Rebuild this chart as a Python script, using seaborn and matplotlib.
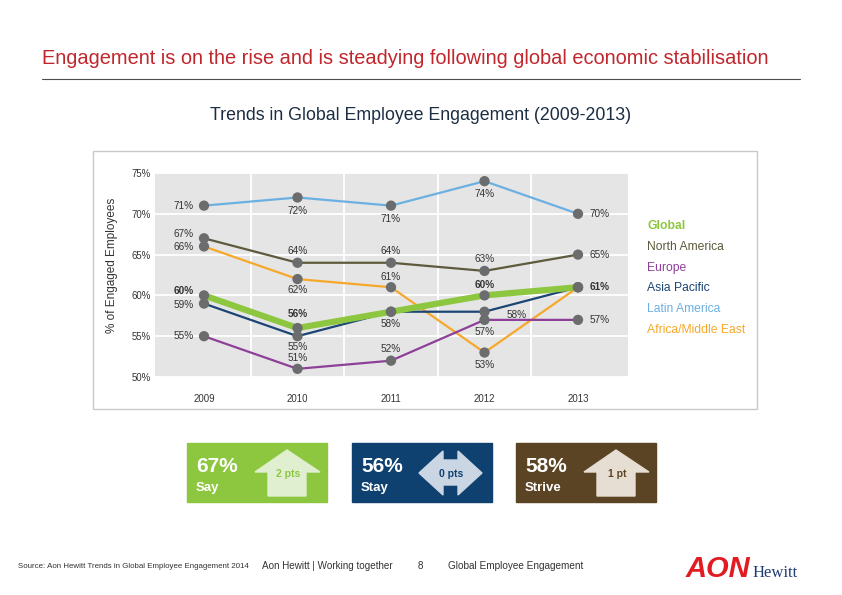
import matplotlib
matplotlib.use("Agg")
import pandas as pd
import matplotlib.pyplot as plt
import seaborn as sns
from matplotlib import font_manager
from matplotlib.patches import Rectangle, Polygon
from matplotlib.lines import Line2D

# Engagement (% of engaged employees) by region
years = [2009, 2010, 2011, 2012, 2013]
global_eng = [60, 56, 58, 60, 61]
north_america = [67, 64, 64, 63, 65]
europe = [55, 51, 52, 57, 57]
asia_pacific = [59, 55, 58, 58, 61]
latin_america = [71, 72, 71, 74, 70]
africa_me = [66, 62, 61, 53, 61]
y_ticks = [50, 55, 60, 65, 70, 75]

# summary boxes under the chart
box_values = ['67%', '56%', '58%']
box_names = ['Say', 'Stay', 'Strive']
box_changes = ['2 pts', '0 pts', '1 pt']

legend_order = ['Global', 'North America', 'Europe', 'Asia Pacific',
                'Latin America', 'Africa/Middle East']
series = {
    'Global': global_eng,
    'North America': north_america,
    'Europe': europe,
    'Asia Pacific': asia_pacific,
    'Latin America': latin_america,
    'Africa/Middle East': africa_me,
}

rows = []
for name, vals in series.items():
    for yr, v in zip(years, vals):
        rows.append({'Year': yr, 'Region': name, 'Engagement': v})
df = pd.DataFrame(rows)

colors = {
    'Global': '#8dc63f',
    'North America': '#5e5a3c',
    'Europe': '#8e3f98',
    'Asia Pacific': '#1b4674',
    'Latin America': '#6cb0e2',
    'Africa/Middle East': '#f7a82a',
}
widths = {k: 1.6 for k in colors}
widths['Global'] = 4.5
draw_order = ['Latin America', 'North America', 'Africa/Middle East',
              'Europe', 'Asia Pacific', 'Global']

# label placement per point: (dx px, dy px, ha) or None
label_pos = {
    'Latin America': [(-10, 0, 'right'), (0, -14, 'center'), (0, -13, 'center'), (0, -13, 'center'), (12, 0, 'left')],
    'North America': [(-10, 4, 'right'), (0, 12, 'center'), (0, 12, 'center'), (0, 12, 'center'), (12, 0, 'left')],
    'Africa/Middle East': [(-10, -1, 'right'), (0, -11, 'center'), (0, 10, 'center'), (0, -12, 'center'), None],
    'Global': [(-10, 4, 'right'), (0, 14, 'center'), None, (0, 10, 'center'), (12, 0, 'left')],
    'Asia Pacific': [(-10, -1, 'right'), (0, -11, 'center'), (0, -12, 'center'), (32, -3, 'center'), None],
    'Europe': [(-10, 0, 'right'), (0, 11, 'center'), (0, 12, 'center'), (0, -12, 'center'), (12, 0, 'left')],
}

sns.set_style("white")
plt.rcParams['font.family'] = ['Liberation Sans', 'DejaVu Sans']
installed = {f.name for f in font_manager.fontManager.ttflist}
has_narrow = 'Liberation Sans Narrow' in installed

W, H = 842, 595
fig = plt.figure(figsize=(W / 100, H / 100), dpi=100)


def fx(x):
    return x / W


def fy(y):
    return 1 - y / H


# header
fig.text(fx(42), fy(59), 'Engagement is on the rise and is steadying following global economic stabilisation',
         color='#c0272d', fontsize=14.4, va='center', ha='left')
fig.add_artist(Line2D([fx(42), fx(800)], [fy(79), fy(79)], color='#4d4d4d', lw=0.8))
fig.text(fx(421), fy(115), 'Trends in Global Employee Engagement (2009-2013)',
         color='#1c2d42', fontsize=12.8, va='center', ha='center')

# chart frame
fig.add_artist(Rectangle((fx(93), fy(409)), fx(757 - 93), (409 - 151) / H,
                         transform=fig.transFigure, facecolor='white',
                         edgecolor='#c9c9c9', lw=1.0, zorder=0))

ax = fig.add_axes([fx(155), fy(377), fx(628 - 155), (377 - 173) / H])
ax.set_facecolor('#e5e5e5')
for s in ax.spines.values():
    s.set_visible(False)

sns.lineplot(data=df, x='Year', y='Engagement', hue='Region', hue_order=draw_order,
             palette=colors, size='Region', sizes=widths, size_order=draw_order,
             legend=False, ax=ax, zorder=3)
sns.scatterplot(data=df, x='Year', y='Engagement', color='#6b6c6e', s=55,
                edgecolor='none', legend=False, ax=ax, zorder=5)

for name in series:
    for yr, v, pos in zip(years, series[name], label_pos[name]):
        if pos is None:
            continue
        dx, dy, ha = pos
        ax.annotate(f'{v}%', (yr, v), xytext=(dx, dy), textcoords='offset pixels',
                    ha=ha, va='center', fontsize=7.2, color='#333333',
                    fontweight='bold' if name == 'Global' else 'normal', zorder=6)

ax.set_xlim(2009 - 49 / 93.5, 2013 + 50 / 93.5)
ax.set_ylim(50, 75)
ax.set_xticks(years)
ax.set_xticks([y + 0.5 for y in years[:-1]], minor=True)
ax.set_yticks(y_ticks)
ax.set_yticklabels([f'{t}%' for t in y_ticks])
ax.grid(True, axis='y', color='white', lw=1.3, zorder=1)
ax.grid(True, axis='x', which='minor', color='white', lw=1.3, zorder=1)
ax.set_axisbelow(True)
ax.tick_params(axis='both', which='both', length=0, labelsize=6.9, colors='#333333')
ax.tick_params(axis='x', pad=12)
ax.tick_params(axis='y', pad=3)
ax.set_xlabel('')
ax.set_ylabel('')
fig.text(fx(112), fy(265), '% of Engaged Employees', rotation=90, fontsize=8.5,
         color='#333333', va='center', ha='center')

# legend as coloured text
for i, name in enumerate(legend_order):
    fig.text(fx(647), fy(226 + i * 20.8), name, color=colors[name], fontsize=8.7,
             va='center', ha='left', fontweight='bold' if name == 'Global' else 'normal')

# summary boxes
box_x = [187, 352, 516]
box_cols = ['#8dc63f', '#0e4170', '#5b4423']
arrow_cols = ['#e0efcf', '#cbd6e4', '#e6ded3']
for i in range(3):
    x0 = box_x[i]
    fig.add_artist(Rectangle((fx(x0), fy(502)), fx(140), 59 / H,
                             transform=fig.transFigure, color=box_cols[i]))
    fig.text(fx(x0 + 9), fy(467), box_values[i], color='white', fontsize=15,
             fontweight='bold', va='center', ha='left')
    fig.text(fx(x0 + 9), fy(488), box_names[i], color='white', fontsize=9.5,
             fontweight='bold', va='center', ha='left')
    if box_changes[i] == '0 pts':
        pts = [(419, 473), (443, 451), (443, 460), (458, 460), (458, 451), (482, 473),
               (458, 495), (458, 485), (443, 485), (443, 495)]
        cx = 451
    else:
        a = x0 + 68
        pts = [(a, 472), (a + 32, 450), (a + 65, 472), (a + 51, 472), (a + 51, 496),
               (a + 13, 496), (a + 13, 472)]
        cx = a + 33
    fig.add_artist(Polygon([(fx(px), fy(py)) for px, py in pts], closed=True,
                           transform=fig.transFigure, color=arrow_cols[i]))
    fig.text(fx(cx), fy(474), box_changes[i], color=box_cols[i], fontsize=7.5,
             fontweight='bold', va='center', ha='center')

# footer
fig.text(fx(18), fy(566), 'Source: Aon Hewitt Trends in Global Employee Engagement 2014',
         fontsize=5.7, color='#333333', va='center')
fig.text(fx(262), fy(566), 'Aon Hewitt | Working together', fontsize=7.1,
         color='#333333', va='center')
fig.text(fx(418), fy(566), '8', fontsize=7.1, color='#333333', va='center')
fig.text(fx(448), fy(566), 'Global Employee Engagement', fontsize=7.2,
         color='#333333', va='center')
if has_narrow:
    fig.text(fx(686), fy(577), 'AON', fontsize=26, color='#e11b22', fontweight='bold',
             fontstyle='italic', family='Liberation Sans Narrow', va='baseline', ha='left')
else:
    fig.text(fx(686), fy(577), 'AON', fontsize=21, color='#e11b22', fontweight='bold',
             fontstyle='italic', va='baseline', ha='left')
fig.text(fx(753), fy(577), 'Hewitt', fontsize=12, color='#1f3b73',
         family='Liberation Serif', va='baseline', ha='left')

fig.savefig('out.png', dpi=100)
